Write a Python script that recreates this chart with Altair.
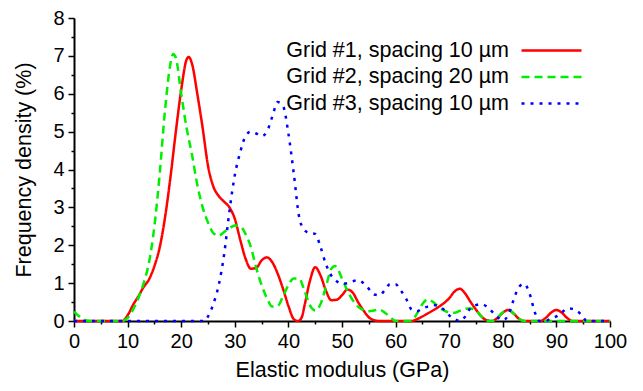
import altair as alt
import pandas as pd

names = ["Grid #1, spacing 10 \u00b5m", "Grid #2, spacing 20 \u00b5m", "Grid #3, spacing 10 \u00b5m"]
colors = ["#ff0000", "#00ee00", "#0000ff"]
dashes = [[1, 0], [8, 5], [3, 6]]

x1 = [0, 2, 4, 6, 8, 9, 10, 11, 12, 13, 14, 15, 16, 17, 18, 19, 20, 21, 21.4, 22, 23, 24, 25, 26, 27, 28, 29, 30,
      31, 32, 33, 34, 35, 36, 37, 38, 39, 40, 41, 41.8, 42.5, 43, 44, 45, 46, 47, 48, 49, 50, 51, 52, 53, 54, 55,
      56, 57, 60, 63, 64, 66, 68, 69, 70, 71, 72, 73, 74, 75, 76, 77, 78, 79, 80, 81, 82, 83, 84, 87, 88, 89, 90,
      91, 92, 93, 100]
y1 = [0, 0, 0, 0, 0, 0, 0.15, 0.42, 0.65, 0.9, 1.1, 1.45, 1.95, 2.75, 3.8, 5.0, 6.1, 6.9, 6.97, 6.8, 6.0, 5.1,
      4.1, 3.55, 3.3, 3.15, 3.0, 2.7, 2.15, 1.65, 1.38, 1.4, 1.6, 1.68, 1.55, 1.25, 0.85, 0.4, 0.05, 0, 0.1, 0.4,
      1.05, 1.42, 1.2, 0.8, 0.55, 0.56, 0.68, 0.83, 0.75, 0.5, 0.28, 0.1, 0.02, 0, 0, 0, 0.05, 0.2, 0.37, 0.47,
      0.6, 0.78, 0.85, 0.72, 0.5, 0.3, 0.12, 0.02, 0, 0.08, 0.22, 0.29, 0.2, 0.06, 0, 0, 0.08, 0.22, 0.29, 0.22,
      0.08, 0, 0]

x2 = [0, 1, 2, 3, 9, 10, 11, 12, 13, 14, 15, 16, 17, 18, 18.5, 19, 20, 21, 22, 23, 24, 25, 26, 27, 28, 29, 30,
      31, 32, 33, 34, 35, 36, 37, 38, 39, 40, 41, 42, 43, 44, 45, 46, 47, 48, 48.7, 49, 50, 51, 52, 53, 54, 55,
      56, 57, 58, 59, 60, 63, 64, 65, 66, 67, 68, 69, 70, 71, 72, 73, 74, 75, 76, 77, 78, 79, 80, 81, 82, 83, 84,
      100]
y2 = [0.25, 0.12, 0.03, 0, 0, 0.08, 0.3, 0.6, 1.0, 1.55, 2.5, 3.9, 5.6, 6.8, 7.05, 6.95, 6.0, 5.1, 4.4, 3.6,
      3.0, 2.6, 2.32, 2.25, 2.35, 2.45, 2.52, 2.5, 2.3, 1.95, 1.4, 0.95, 0.6, 0.38, 0.4, 0.65, 0.95, 1.12, 1.12,
      0.8, 0.42, 0.28, 0.45, 0.9, 1.38, 1.45, 1.42, 1.12, 0.8, 0.55, 0.38, 0.29, 0.26, 0.28, 0.3, 0.22, 0.1, 0,
      0, 0.2, 0.45, 0.57, 0.5, 0.38, 0.28, 0.23, 0.22, 0.27, 0.32, 0.33, 0.28, 0.12, 0, 0, 0.1, 0.23, 0.29, 0.2,
      0.06, 0, 0]

x3 = [0, 10, 20, 24.3, 25, 26, 27, 28, 29, 30, 31, 32, 33, 34, 35, 36, 37, 38, 39, 40, 41, 42, 43, 44, 45, 46,
      47, 48, 49, 50, 51, 52, 53, 54, 55, 56, 57, 58, 59, 60, 61, 62, 63, 64, 65, 66, 67, 68, 69, 70, 71, 72, 73,
      74, 75, 76, 77, 78, 79, 80, 81, 82, 83, 84, 85, 86, 86.8, 88, 89, 90, 91, 92, 93, 94, 95, 95.6, 100]
y3 = [0, 0, 0, 0, 0.12, 0.45, 0.95, 1.75, 2.9, 3.85, 4.45, 4.88, 5.0, 4.95, 4.88, 5.0, 5.4, 5.78, 5.68, 4.95,
      3.9, 2.75, 2.4, 2.32, 2.3, 1.95, 1.5, 1.2, 1.05, 0.98, 1.0, 1.05, 1.08, 1.0, 0.85, 0.7, 0.68, 0.82, 0.98,
      0.97, 0.8, 0.58, 0.3, 0.26, 0.33, 0.38, 0.42, 0.4, 0.3, 0.15, 0.05, 0, 0.12, 0.35, 0.42, 0.45, 0.38, 0.25,
      0.1, 0.02, 0.15, 0.55, 0.9, 0.98, 0.72, 0.22, 0, 0, 0.07, 0.12, 0.22, 0.33, 0.32, 0.25, 0.1, 0, 0]

rows = []
for name, xs, ys in zip(names, [x1, x2, x3], [y1, y2, y3]):
    for xv, yv in zip(xs, ys):
        rows.append({"series": name, "x": xv, "y": yv})
df = pd.DataFrame(rows)

font = "Liberation Sans"
x_ticks = [v * 5 for v in range(21)]
y_ticks = [v * 0.5 for v in range(17)]

chart = alt.Chart(df).mark_line(strokeWidth=2.5, interpolate="monotone").encode(
    x=alt.X("x:Q", title="Elastic modulus (GPa)",
            scale=alt.Scale(domain=[0, 100], nice=False, zero=False),
            axis=alt.Axis(values=x_ticks, labelExpr="datum.value % 10 === 0 ? format(datum.value, 'd') : ''",
                          tickSize={"condition": {"test": "datum.value % 10 === 0", "value": 6}, "value": 3},
                          labelFlush=False, labelOverlap=False, labelPadding=4, titlePadding=8)),
    y=alt.Y("y:Q", title="Frequency density (%)",
            scale=alt.Scale(domain=[0, 8], nice=False),
            axis=alt.Axis(values=y_ticks, labelExpr="datum.value % 1 === 0 ? format(datum.value, 'd') : ''",
                          tickSize={"condition": {"test": "datum.value % 1 === 0", "value": 6}, "value": 3},
                          labelFlush=False, labelOverlap=False, labelPadding=4, titlePadding=17)),
    color=alt.Color("series:N", scale=alt.Scale(domain=names, range=colors), legend=alt.Legend(title=None)),
    strokeDash=alt.StrokeDash("series:N", scale=alt.Scale(domain=names, range=dashes), legend=alt.Legend(title=None)),
).properties(
    width=536, height=303,
    autosize=alt.AutoSizeParams(type="none"),
    padding={"left": 74, "top": 18, "right": 33, "bottom": 70},
).configure_view(stroke=None).configure_axis(
    grid=False, domainColor="black", domainWidth=2, tickColor="black", tickWidth=1.5,
    labelFont=font, labelFontSize=20, labelColor="black",
    titleFont=font, titleFontSize=21.5, titleFontWeight="normal", titleColor="black",
).configure_legend(
    orient="none", legendX=466, legendY=21, padding=0,
    labelFont=font, labelFontSize=21.5, labelColor="black", labelAlign="right", labelOffset={"expr": "-54"},
    labelLimit=400, symbolType="M-3,0H3", symbolSize=400, symbolStrokeWidth=2.5,
    symbolFillColor="transparent", rowPadding=4.5,
)

chart.save("out.html", embed_options={"renderer": "svg", "actions": False})
